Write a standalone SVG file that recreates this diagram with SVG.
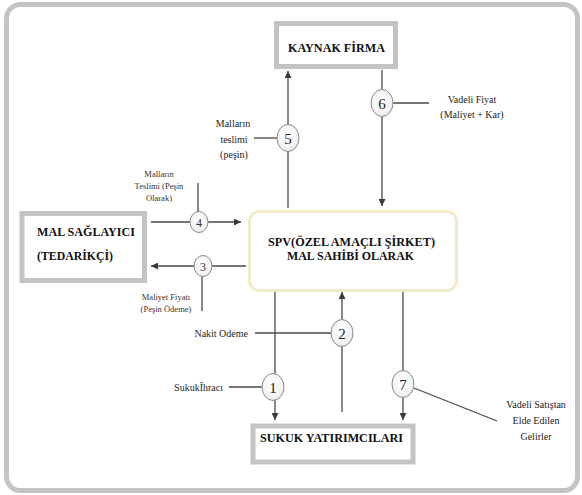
<svg xmlns="http://www.w3.org/2000/svg" width="582" height="495" viewBox="0 0 582 495" font-family="Liberation Serif, Times New Roman, serif">
<style>
.box{fill:#fff;stroke:#c3c3c3;stroke-width:5}
text{font-family:"Liberation Serif","Times New Roman",serif}
.bt{font-weight:bold;font-size:12px;fill:#111}
.lb{font-size:10px;fill:#222;text-anchor:middle}
.sm{font-size:8.5px;fill:#333;text-anchor:middle}
.ln{stroke:#4a4a4a;stroke-width:1.3;fill:none}
.ar{stroke:#4a4a4a;stroke-width:1.3;fill:none;marker-end:url(#ah)}
.cc{fill:url(#cg);stroke:#8a8a8a;stroke-width:1}
.num{font-size:15px;fill:#222;text-anchor:middle}
.nums{font-size:12px;fill:#333;text-anchor:middle}
</style>
<defs>
<marker id="ah" viewBox="0 0 10 10" refX="10" refY="5" markerWidth="7" markerHeight="7" markerUnits="userSpaceOnUse" orient="auto">
<path d="M0,0 L10,5 L0,10 z" fill="#3a3a3a"/>
</marker>
<radialGradient id="cg" cx="0.45" cy="0.4" r="0.7">
<stop offset="0" stop-color="#ffffff"/>
<stop offset="0.7" stop-color="#f2f2f2"/>
<stop offset="1" stop-color="#dcdcdc"/>
</radialGradient>
</defs>
<rect x="6.5" y="4.5" width="571" height="486" rx="14" fill="#fff" stroke="#c4c4c4" stroke-width="5"/>

<g id="connectors">
<line class="ar" x1="288" y1="208" x2="288" y2="71"/>
<line class="ln" x1="254" y1="138" x2="277" y2="138"/>
<line class="ar" x1="382" y1="70" x2="382" y2="206"/>
<line class="ln" x1="393" y1="103" x2="429" y2="103"/>
<line class="ar" x1="151" y1="222" x2="241" y2="222"/>
<line class="ln" x1="198" y1="183" x2="198" y2="212"/>
<line class="ar" x1="246" y1="266" x2="151" y2="266"/>
<line class="ln" x1="202" y1="276" x2="202" y2="311"/>
<line class="ar" x1="275" y1="291" x2="275" y2="420"/>
<line class="ln" x1="229" y1="387" x2="262" y2="387"/>
<line class="ar" x1="342" y1="412" x2="342" y2="292"/>
<line class="ln" x1="255" y1="333" x2="331" y2="333"/>
<line class="ar" x1="403" y1="291" x2="403" y2="420"/>
<line class="ln" x1="414" y1="388" x2="497" y2="421"/>
</g>

<g id="kaynak-firma">
<rect class="box" x="276.5" y="23.5" width="119" height="43"/>
<text class="bt" x="288" y="52" textLength="97" lengthAdjust="spacingAndGlyphs">KAYNAK FİRMA</text>
</g>

<g id="spv">
<rect x="249.5" y="211.5" width="207" height="79" rx="10" fill="#fff" stroke="#f3eac6" stroke-width="3"/>
<text class="bt" x="268" y="246" textLength="167" lengthAdjust="spacingAndGlyphs">SPV(ÖZEL AMAÇLI ŞİRKET)</text>
<text class="bt" x="287" y="260" textLength="127" lengthAdjust="spacingAndGlyphs">MAL SAHİBİ OLARAK</text>
</g>

<g id="mal-saglayici">
<rect class="box" x="22" y="213.5" width="122.5" height="67"/>
<text class="bt" x="37" y="236" textLength="98" lengthAdjust="spacingAndGlyphs">MAL SAĞLAYICI</text>
<text class="bt" x="37" y="260" textLength="76" lengthAdjust="spacingAndGlyphs">(TEDARİKÇİ)</text>
</g>

<g id="sukuk-yatirimcilari">
<rect class="box" x="253" y="426" width="160" height="36"/>
<text class="bt" x="260" y="442" textLength="143" lengthAdjust="spacingAndGlyphs">SUKUK YATIRIMCILARI</text>
</g>

<g id="step5">
<ellipse class="cc" cx="288" cy="138" rx="11" ry="13.5"/>
<text class="num" x="288" y="144">5</text>
<text class="lb" x="233" y="127">Malların</text>
<text class="lb" x="234" y="143">teslimi</text>
<text class="lb" x="234" y="158">(peşin)</text>
</g>

<g id="step6">
<ellipse class="cc" cx="382" cy="103" rx="11" ry="13.5"/>
<text class="num" x="382" y="109">6</text>
<text class="lb" x="472" y="103">Vadeli Fiyat</text>
<text class="lb" x="472" y="118">(Maliyet + Kar)</text>
</g>

<g id="step4">
<ellipse class="cc" cx="199" cy="222" rx="9" ry="10.5"/>
<text class="nums" x="199" y="226.5">4</text>
<text class="sm" x="159" y="177">Malların</text>
<text class="sm" x="159" y="189">Teslimi (Peşin</text>
<text class="sm" x="159" y="201">Olarak)</text>
</g>

<g id="step3">
<ellipse class="cc" cx="203" cy="266" rx="9" ry="10.5"/>
<text class="nums" x="203" y="270.5">3</text>
<text class="sm" x="166" y="300">Maliyet Fiyatı</text>
<text class="sm" x="166" y="312">(Peşin Ödeme)</text>
</g>

<g id="step2">
<ellipse class="cc" cx="342" cy="333" rx="11" ry="13.5"/>
<text class="num" x="342" y="339">2</text>
<text class="lb" x="248" y="337" style="text-anchor:end">Nakit Odeme</text>
</g>

<g id="step1">
<ellipse class="cc" cx="273" cy="387" rx="11" ry="13.5"/>
<text class="num" x="273" y="393">1</text>
<text class="lb" x="223" y="391" style="text-anchor:end">SukukÎhracı</text>
</g>

<g id="step7">
<ellipse class="cc" cx="403" cy="384" rx="11" ry="13.5"/>
<text class="num" x="403" y="390">7</text>
<text class="lb" x="536" y="408">Vadeli Satıştan</text>
<text class="lb" x="536" y="424">Elde Edilen</text>
<text class="lb" x="536" y="440">Gelirler</text>
</g>
</svg>
